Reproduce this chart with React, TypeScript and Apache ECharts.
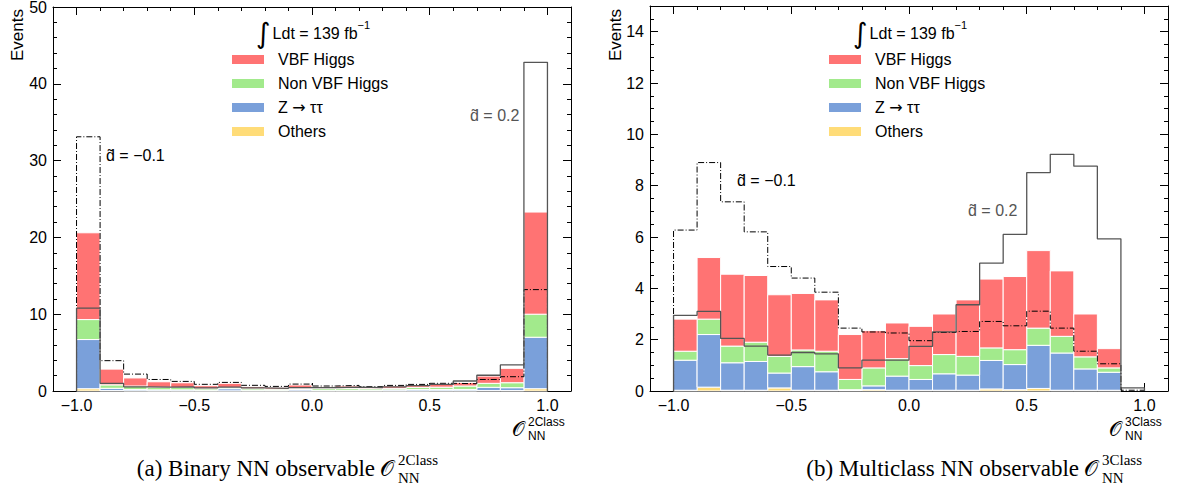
import React, { useEffect, useRef } from "react";
import * as echarts from "echarts";

// ---------- data ----------
const binEdges = [
  -1.0, -0.9, -0.8, -0.7, -0.6, -0.5, -0.4, -0.3, -0.2, -0.1, 0.0,
  0.1, 0.2, 0.3, 0.4, 0.5, 0.6, 0.7, 0.8, 0.9, 1.0,
];
const xTickLabels = [-1.0, -0.5, 0.0, 0.5, 1.0];

// (a) Binary NN observable
const aOthers = [0.3, 0.05, 0.03, 0.02, 0.02, 0.02, 0.02, 0.02, 0.02, 0.02, 0.02, 0.02, 0.02, 0.02, 0.02, 0.03, 0.03, 0.05, 0.05, 0.3];
const aZtt = [6.4, 0.3, 0.17, 0.13, 0.13, 0.08, 0.28, 0.08, 0.08, 0.18, 0.08, 0.08, 0.08, 0.13, 0.18, 0.17, 0.17, 0.43, 0.38, 6.7];
const aNonVbf = [2.6, 0.45, 0.45, 0.33, 0.3, 0.2, 0.15, 0.2, 0.15, 0.15, 0.25, 0.25, 0.2, 0.2, 0.28, 0.3, 0.45, 0.52, 0.65, 3.0];
const aVbf = [11.3, 2.05, 1.05, 0.72, 0.62, 0.39, 0.55, 0.26, 0.23, 0.43, 0.25, 0.3, 0.2, 0.3, 0.3, 0.36, 0.45, 0.94, 1.87, 13.3];
const aDm01 = [33.1, 3.95, 2.2, 1.5, 1.25, 0.87, 1.12, 0.74, 0.6, 0.9, 0.65, 0.73, 0.56, 0.73, 0.86, 1.0, 0.95, 1.5, 1.86, 13.2];
const aDp02 = [10.8, 1.0, 0.55, 0.5, 0.55, 0.4, 0.5, 0.4, 0.35, 0.45, 0.45, 0.5, 0.45, 0.55, 0.7, 0.85, 1.3, 2.05, 3.4, 42.8];

// (b) Multiclass NN observable
const bOthers = [0.03, 0.15, 0.03, 0.03, 0.12, 0.03, 0.03, 0.02, 0.05, 0.03, 0.03, 0.03, 0.03, 0.08, 0.05, 0.1, 0.03, 0.03, 0.03, 0];
const bZtt = [1.17, 2.05, 1.07, 1.12, 0.58, 0.92, 0.72, 0.03, 0.15, 0.55, 0.42, 0.64, 0.59, 1.11, 0.98, 1.68, 1.45, 0.83, 0.7, 0];
const bNonVbf = [0.35, 0.6, 0.65, 0.75, 0.65, 0.65, 0.8, 0.4, 0.7, 0.68, 0.54, 0.75, 0.73, 0.49, 0.58, 0.67, 0.65, 0.47, 0.17, 0];
const bVbf = [1.25, 2.4, 2.8, 2.6, 2.4, 2.2, 2.0, 1.75, 1.45, 1.39, 1.53, 1.58, 2.2, 2.68, 2.85, 3.02, 2.55, 1.67, 0.75, 0];
const bDm01 = [6.27, 8.9, 7.37, 6.2, 4.85, 4.4, 3.85, 2.45, 2.3, 2.26, 1.96, 2.28, 2.32, 2.71, 2.54, 3.11, 2.45, 1.55, 1.06, 0.03];
const bDp02 = [2.95, 3.1, 2.05, 1.75, 1.4, 1.5, 1.45, 0.9, 1.2, 1.2, 1.74, 2.3, 3.36, 4.98, 6.1, 8.51, 9.22, 8.76, 5.93, 0.12];

const legendNames = ["VBF Higgs", "Non VBF Higgs", "Z {ar|\u2192} \u03c4\u03c4", "Others"];
const colors = { vbf: "#ff7373", nonvbf: "#a2ea8c", ztt: "#7aa0da", others: "#ffdc78" };

const FONT = "'Liberation Sans', Arial, Helvetica, sans-serif";
const SERIF = "'Liberation Serif', 'DejaVu Serif', serif";

function stackSeries(
  comps: { vals: number[]; color: string }[],
  xIdx: number,
  yIdx: number
) {
  const out: any[] = [];
  const base = new Array(binEdges.length - 1).fill(0);
  comps.forEach((c, ci) => {
    const data = c.vals.map((v, i) => {
      const b = base[i];
      base[i] += v;
      return [binEdges[i], binEdges[i + 1], b, b + v];
    });
    out.push({
      type: "custom",
      xAxisIndex: xIdx,
      yAxisIndex: yIdx,
      z: 2 + ci * 0.01,
      encode: { x: [0, 1], y: [2, 3] },
      data,
      renderItem: (params: any, api: any) => {
        const lo = api.value(0);
        const hi = api.value(1);
        const b = api.value(2);
        const t = api.value(3);
        if (t - b <= 0) return null;
        const p1 = api.coord([lo, t]);
        const p2 = api.coord([hi, b]);
        return {
          type: "rect",
          shape: { x: p1[0], y: p1[1], width: p2[0] - p1[0], height: p2[1] - p1[1] },
          style: { fill: c.color, stroke: "#ffffff", lineWidth: 1 },
        };
      },
    });
  });
  return out;
}

function stepLine(vals: number[], xIdx: number, yIdx: number, style: any) {
  const pts: number[][] = [[binEdges[0], 0]];
  vals.forEach((v, i) => pts.push([binEdges[i], v]));
  pts.push([binEdges[binEdges.length - 1], vals[vals.length - 1]]);
  pts.push([binEdges[binEdges.length - 1], 0]);
  return {
    type: "line",
    xAxisIndex: xIdx,
    yAxisIndex: yIdx,
    step: "end",
    symbol: "none",
    z: 5,
    data: pts,
    lineStyle: style,
  };
}

const fmtX = (v: number) => {
  const s = Math.abs(v).toFixed(1);
  return v < -1e-9 ? "\u2212" + s : s;
};

function axesFor(g: number, yMax: number, yMajor: number, yMinor: number, showMax: boolean) {
  const common = { type: "value", gridIndex: g, splitLine: { show: false } };
  const line = { show: true, onZero: false, lineStyle: { color: "#000", width: 1 } };
  const noLine = { show: false, onZero: false };
  const tickStyle = { color: "#000", width: 1 };
  const label = { fontSize: 16, fontFamily: FONT, color: "#000", margin: 6 };
  const xAxes = [
    {
      ...common, position: "bottom", min: -1.1, max: 1.1, axisLine: line,
      axisTick: { show: true, inside: true, length: 8, customValues: xTickLabels, lineStyle: tickStyle },
      axisLabel: { ...label, show: true, customValues: xTickLabels, formatter: fmtX },
    },
    {
      ...common, position: "bottom", min: -1.1, max: 1.1, interval: 0.1, axisLine: noLine,
      axisTick: { show: true, inside: true, length: 4, lineStyle: tickStyle }, axisLabel: { show: false },
    },
    {
      ...common, position: "top", min: -1.1, max: 1.1, axisLine: line,
      axisTick: { show: true, inside: true, length: 8, customValues: xTickLabels, lineStyle: tickStyle },
      axisLabel: { show: false },
    },
    {
      ...common, position: "top", min: -1.1, max: 1.1, interval: 0.1, axisLine: noLine,
      axisTick: { show: true, inside: true, length: 4, lineStyle: tickStyle }, axisLabel: { show: false },
    },
  ];
  const yAxes = [
    {
      ...common, position: "left", min: 0, max: yMax, interval: yMajor, axisLine: line,
      axisTick: { show: true, inside: true, length: 8, lineStyle: tickStyle },
      axisLabel: { ...label, show: true, showMaxLabel: showMax },
    },
    {
      ...common, position: "left", min: 0, max: yMax, interval: yMinor, axisLine: noLine,
      axisTick: { show: true, inside: true, length: 4, lineStyle: tickStyle }, axisLabel: { show: false },
    },
    {
      ...common, position: "right", min: 0, max: yMax, interval: yMajor, axisLine: line,
      axisTick: { show: true, inside: true, length: 8, lineStyle: tickStyle }, axisLabel: { show: false },
    },
    {
      ...common, position: "right", min: 0, max: yMax, interval: yMinor, axisLine: noLine,
      axisTick: { show: true, inside: true, length: 4, lineStyle: tickStyle }, axisLabel: { show: false },
    },
  ];
  return { xAxes, yAxes };
}

function legendGraphics(dx: number) {
  const els: any[] = [];
  els.push({
    type: "text",
    x: 256 + dx,
    y: 33,
    style: {
      text: "{a|\u222b}{b|Ldt = 139 fb}{c|\u22121}",
      textVerticalAlign: "middle",
      textAlign: "left",
      rich: {
        a: { fontSize: 28, fontFamily: "'DejaVu Sans', sans-serif", fill: "#000", verticalAlign: "middle", padding: [0, 2, 0, 0] },
        b: { fontSize: 16, fontFamily: FONT, fill: "#000", verticalAlign: "middle" },
        c: { fontSize: 11, fontFamily: FONT, fill: "#000", verticalAlign: "top" },
      },
    },
  });
  const cols = [colors.vbf, colors.nonvbf, colors.ztt, colors.others];
  const yc = [59.5, 83.5, 107.5, 131.5];
  legendNames.forEach((n, i) => {
    els.push({
      type: "rect",
      shape: { x: 232 + dx, y: yc[i] - 4.5, width: 32, height: 9 },
      style: { fill: cols[i] },
    });
    els.push({
      type: "text",
      x: 278 + dx,
      y: yc[i],
      style: {
        text: n, fontSize: 16, fontFamily: FONT, fill: "#000", textVerticalAlign: "middle",
        rich: { ar: { fontSize: 16, fontFamily: "'DejaVu Sans', sans-serif", fill: "#000" } },
      },
    });
  });
  return els;
}

function axisName(x: number, y: number, sup: string) {
  return [
    { type: "text", x, y, style: { text: "\ud835\udcaa", fontSize: 20, fontFamily: "'DejaVu Serif', 'DejaVu Sans', serif", fill: "#000", textAlign: "center", textVerticalAlign: "middle" } },
    { type: "text", x: x + 10, y: y - 7, style: { text: sup, fontSize: 12, fontFamily: FONT, fill: "#000", textAlign: "left", textVerticalAlign: "middle" } },
    { type: "text", x: x + 10, y: y + 7, style: { text: "NN", fontSize: 12, fontFamily: FONT, fill: "#000", textAlign: "left", textVerticalAlign: "middle" } },
  ];
}

function caption(xEnd: number, main: string, sup: string) {
  return [
    { type: "text", x: xEnd, y: 468, style: { text: main, fontSize: 23, fontFamily: SERIF, fill: "#000", textAlign: "right", textVerticalAlign: "middle" } },
    { type: "text", x: xEnd + 12, y: 468, style: { text: "\ud835\udcaa", fontSize: 22, fontFamily: "'DejaVu Serif', serif", fill: "#000", textAlign: "center", textVerticalAlign: "middle" } },
    { type: "text", x: xEnd + 23, y: 460, style: { text: sup, fontSize: 15, fontFamily: SERIF, fill: "#000", textAlign: "left", textVerticalAlign: "middle" } },
    { type: "text", x: xEnd + 23, y: 478, style: { text: "NN", fontSize: 15, fontFamily: SERIF, fill: "#000", textAlign: "left", textVerticalAlign: "middle" } },
  ];
}

function annot(x: number, y: number, text: string, color: string) {
  return { type: "text", x, y, style: { text, fontSize: 16, fontFamily: FONT, fill: color, textAlign: "left", textVerticalAlign: "middle" } };
}

export default function App() {
  const ref = useRef<HTMLDivElement>(null);
  useEffect(() => {
    if (!ref.current) return;
    const chart = echarts.init(ref.current, undefined, { renderer: "svg" });
    const a = axesFor(0, 50, 10, 2, true);
    const b = axesFor(1, 15, 2, 0.5, false);
    const dashDot = { color: "#000", width: 1, type: [6, 2, 1, 2] };
    const solid = { color: "#555", width: 1.3, type: "solid" };

    const series = [
      ...stackSeries(
        [
          { vals: aOthers, color: colors.others },
          { vals: aZtt, color: colors.ztt },
          { vals: aNonVbf, color: colors.nonvbf },
          { vals: aVbf, color: colors.vbf },
        ],
        0,
        0
      ),
      stepLine(aDm01, 0, 0, dashDot),
      stepLine(aDp02, 0, 0, solid),
      ...stackSeries(
        [
          { vals: bOthers, color: colors.others },
          { vals: bZtt, color: colors.ztt },
          { vals: bNonVbf, color: colors.nonvbf },
          { vals: bVbf, color: colors.vbf },
        ],
        4,
        4
      ),
      stepLine(bDm01, 4, 4, dashDot),
      stepLine(bDp02, 4, 4, solid),
    ];

    const graphic = [
      ...legendGraphics(0),
      ...legendGraphics(597),
      { type: "text", x: 17, y: 35, rotation: Math.PI / 2, style: { text: "Events", fontSize: 17, fontFamily: FONT, fill: "#000", textAlign: "center", textVerticalAlign: "middle" } },
      { type: "text", x: 615, y: 35, rotation: Math.PI / 2, style: { text: "Events", fontSize: 17, fontFamily: FONT, fill: "#000", textAlign: "center", textVerticalAlign: "middle" } },
      ...axisName(518, 429, "2Class"),
      ...axisName(1115, 429, "3Class"),
      ...caption(375, "(a) Binary NN observable", "2Class"),
      ...caption(1079, "(b) Multiclass NN observable", "3Class"),
      annot(106, 155, "d\u0303 = \u22120.1", "#000"),
      annot(470, 115, "d\u0303 = 0.2", "#555"),
      annot(737, 180, "d\u0303 = \u22120.1", "#000"),
      annot(968, 210, "d\u0303 = 0.2", "#555"),
    ];

    chart.setOption({
      animation: false,
      backgroundColor: "#ffffff",
      grid: [
        { left: 53, top: 7, width: 518, height: 384, outerBoundsMode: "none" },
        { left: 650, top: 6, width: 518, height: 385, outerBoundsMode: "none" },
      ],
      xAxis: [...a.xAxes, ...b.xAxes],
      yAxis: [...a.yAxes, ...b.yAxes],
      series,
      graphic,
    });
    return () => chart.dispose();
  }, []);
  return (
    <div
      ref={ref}
      style={{ position: "absolute", left: 0, top: 0, width: 1181, height: 500 }}
    />
  );
}
